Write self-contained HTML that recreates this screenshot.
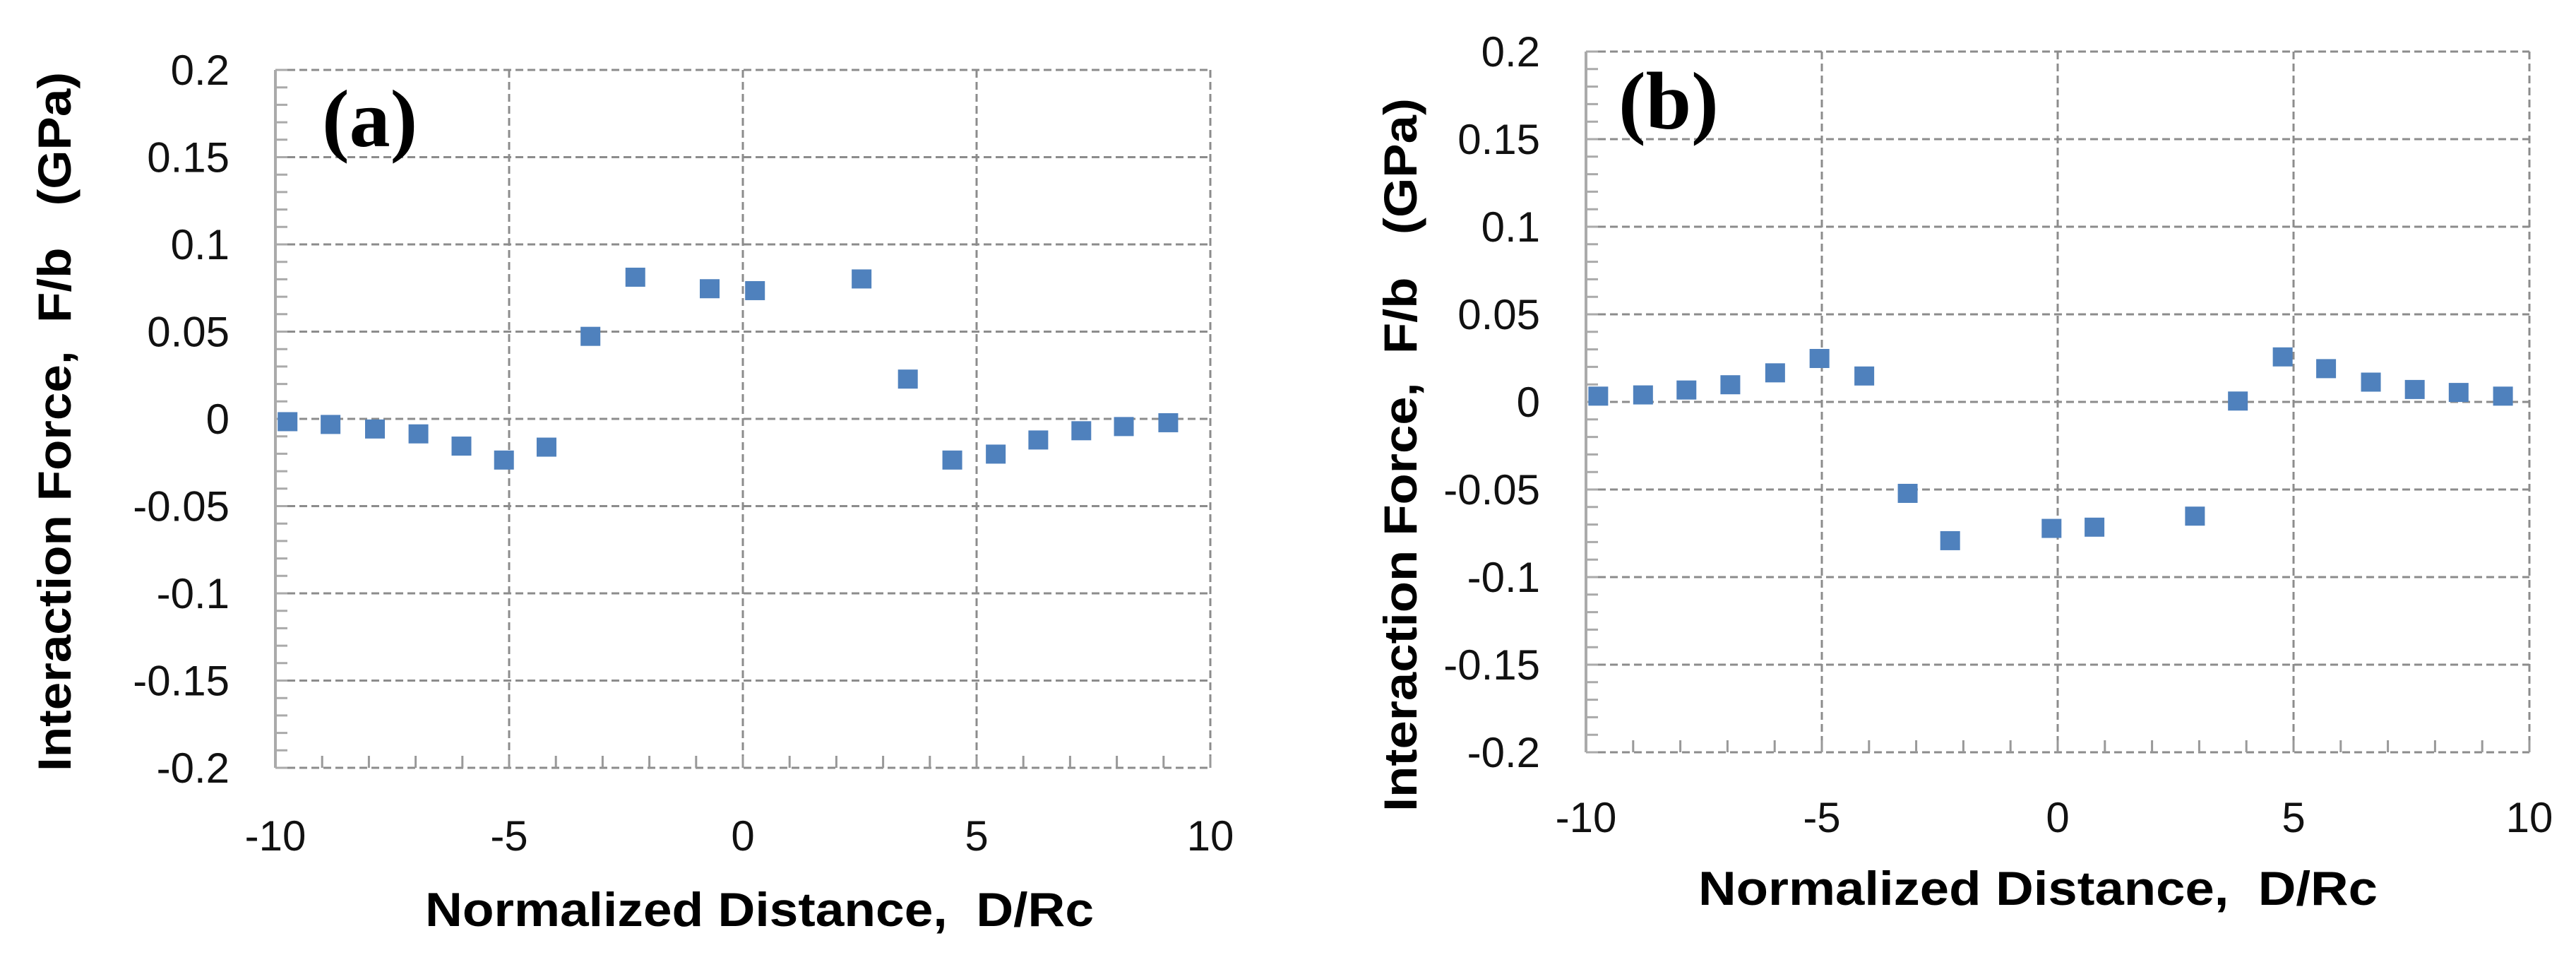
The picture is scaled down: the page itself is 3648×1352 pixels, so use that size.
<!DOCTYPE html>
<html><head><meta charset="utf-8"><style>
html,body{margin:0;padding:0;background:#fff;}
svg{display:block;}
text.pre{white-space:pre;}
</style></head><body>
<svg id="chart" width="3648" height="1352" xmlns="http://www.w3.org/2000/svg" xml:space="preserve"></svg>
<script>
const xTicks=[-10,-5,0,5,10];
const yTicks=[0.2,0.15,0.1,0.05,0,-0.05,-0.1,-0.15,-0.2];
const yTickLabels=["0.2","0.15","0.1","0.05","0","-0.05","-0.1","-0.15","-0.2"];
const xA=[-9.74,-8.82,-7.87,-6.94,-6.02,-5.11,-4.20,-3.26,-2.30,-0.71,0.26,2.54,3.53,4.48,5.41,6.32,7.24,8.15,9.10];
const yA=[-0.0014,-0.003,-0.0056,-0.0084,-0.0154,-0.0234,-0.016,0.0475,0.0814,0.0748,0.0737,0.0804,0.023,-0.0234,-0.020,-0.0119,-0.0066,-0.0042,-0.002];
const xB=[-9.74,-8.79,-7.87,-6.94,-5.99,-5.05,-4.10,-3.18,-2.28,-0.13,0.78,2.91,3.82,4.77,5.69,6.64,7.57,8.50,9.44];
const yB=[0.0035,0.0042,0.007,0.010,0.0168,0.025,0.015,-0.052,-0.079,-0.072,-0.0713,-0.065,0.0007,0.0259,0.0192,0.0115,0.0073,0.0056,0.0035];

const NS="http://www.w3.org/2000/svg";
const svg=document.getElementById('chart');
function mk(tag,attrs,parent,text){const e=document.createElementNS(NS,tag);for(const k in attrs)e.setAttribute(k,attrs[k]);if(text!==undefined)e.textContent=text;(parent||svg).appendChild(e);return e;}

function panel(cfg){
  const g=mk('g',{});
  
  
  const sx=v=>cfg.L+(v+10)/20*(cfg.R-cfg.L);
  const sy=v=>cfg.T+(0.2-v)/0.4*(cfg.B-cfg.T);
  const grid='#8c8c8c';
  for(let i=0;i<yTicks.length;i++){
    const y=sy(yTicks[i]);
    const l=mk('line',{x1:cfg.L,x2:cfg.R,y1:y,y2:y,stroke:grid,'stroke-width':3,'stroke-dasharray':'11,6'},g);
    
    
  }
  for(let i=0;i<xTicks.length;i++){
    const x=sx(xTicks[i]);
    const l=mk('line',{x1:x,x2:x,y1:cfg.T,y2:cfg.B,stroke:grid,'stroke-width':3,'stroke-dasharray':'11,6'},g);
    
    
  }
  for(let v=-0.2;v<=0.2001;v+=0.01){
    const y=sy(v);
    const l=mk('line',{x1:cfg.L,x2:cfg.L+17,y1:y,y2:y,stroke:'#aaa','stroke-width':3},g);
    
    
  }
  for(let v=-10;v<=10;v+=1){
    const x=sx(v);
    const l=mk('line',{x1:x,x2:x,y1:cfg.B,y2:cfg.B-17,stroke:'#999','stroke-width':3},g);
    
    
  }
  const ax=mk('line',{x1:cfg.L,x2:cfg.L,y1:cfg.T,y2:cfg.B,stroke:'#aaa','stroke-width':4},g);
  
  
  for(let i=0;i<yTicks.length;i++){
    const t=mk('text',{x:cfg.L-65,y:sy(yTicks[i])+21,'text-anchor':'end','font-family':'Liberation Sans, sans-serif','font-size':60,fill:'#111'},g,yTickLabels[i]);
    
    
  }
  for(let i=0;i<xTicks.length;i++){
    const t=mk('text',{x:sx(xTicks[i]),y:cfg.xLabY+21,'text-anchor':'middle','font-family':'Liberation Sans, sans-serif','font-size':60,fill:'#111'},g,String(xTicks[i]));
    
    
  }
  for(let i=0;i<cfg.xs.length;i++){
    const r=mk('rect',{x:sx(cfg.xs[i])-14,y:sy(cfg.ys[i])-13,width:28,height:27,fill:'#4f81bd'},g);
    
    
  }
  const lab=mk('text',{x:cfg.labX,y:cfg.labY,'font-family':'Liberation Serif, serif','font-weight':'bold','font-size':116,fill:'#000'},g,cfg.lab);
  
  
  const xt=mk('text',{class:'pre',x:cfg.xtX,y:cfg.xtY+24,'font-family':'Liberation Sans, sans-serif','font-weight':'bold','font-size':68,fill:'#000',textLength:cfg.xtW,lengthAdjust:'spacingAndGlyphs'},g,'Normalized Distance,  D/Rc');
  
  
  const yt=mk('text',{class:'pre',x:0,y:0,'font-family':'Liberation Sans, sans-serif','font-weight':'bold','font-size':66,fill:'#000',textLength:cfg.ytLen,lengthAdjust:'spacingAndGlyphs',transform:'translate('+(cfg.ytX+24)+','+cfg.ytBot+') rotate(-90)'},g,'Interaction Force,  F/b   (GPa)');
  
  
}
panel({name:'panel-a',L:390,R:1714,T:99,B:1087,xs:xA,ys:yA,xLabY:1183,lab:'(a)',labX:456,labY:207,xtX:602,xtY:1287,xtW:947,ytX:76,ytBot:1092,ytLen:990});
panel({name:'panel-b',L:2246,R:3582,T:73,B:1065,xs:xB,ys:yB,xLabY:1157,lab:'(b)',labX:2292,labY:182,xtX:2405,xtY:1257,xtW:962,ytX:1982,ytBot:1149,ytLen:1010});
</script>
</body></html>
